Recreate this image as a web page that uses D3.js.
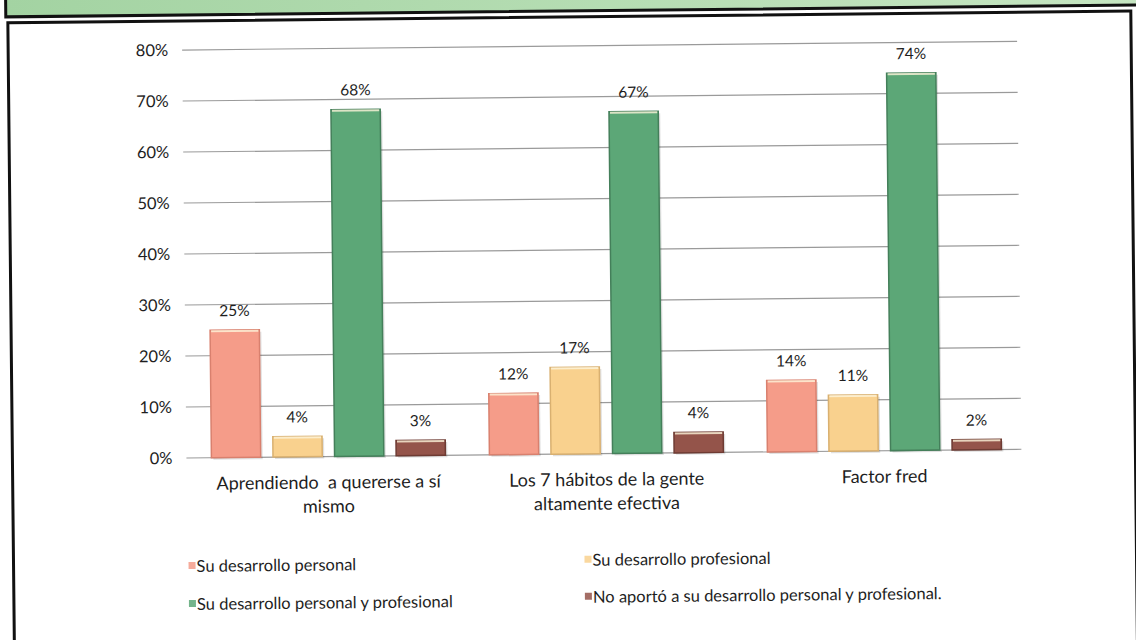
<!DOCTYPE html>
<html>
<head>
<meta charset="utf-8">
<script src="https://cdn.jsdelivr.net/npm/d3@7"></script>
<style>
  html, body { margin: 0; padding: 0; background: #ffffff; }
  svg { display: block; }
  text { font-family: Lato, "Open Sans", sans-serif; fill: #1e1e1e; white-space: pre; }
</style>
</head>
<body>
<svg id="chart" width="1136" height="640"></svg>
<script>
const categories = [
  ["Aprendiendo  a quererse a sí", "mismo"],
  ["Los 7 hábitos de la gente", "altamente efectiva"],
  ["Factor fred"]
];
const seriesNames = [
  "Su desarrollo personal",
  "Su desarrollo profesional",
  "Su desarrollo personal y profesional",
  "No aportó a su desarrollo personal y profesional."
];
const personal = [0.25, 0.12, 0.14];
const profesional = [0.04, 0.17, 0.11];
const personalYProfesional = [0.68, 0.67, 0.74];
const noAporto = [0.03, 0.04, 0.02];
const yTicks = [0, 0.1, 0.2, 0.3, 0.4, 0.5, 0.6, 0.7, 0.8];

const seriesValues = [personal, profesional, personalYProfesional, noAporto];
const fills = ["#f59c89", "#f9d18e", "#5ca777", "#94544a"];
const edges = ["#d9806e", "#d9b070", "#447f5a", "#6e3b33"];

const svg = d3.select("#chart");
svg.append("rect").attr("width", 1136).attr("height", 640).attr("fill", "#fff");
const root = svg.append("g").attr("transform", "rotate(-0.6 568 320)");

// frame
const grad = svg.append("defs").append("linearGradient").attr("id", "band")
  .attr("x1", 0).attr("x2", 1).attr("y1", 0).attr("y2", 0);
grad.append("stop").attr("offset", "0%").attr("stop-color", "#a3d3a2");
grad.append("stop").attr("offset", "100%").attr("stop-color", "#c6e6c2");
root.append("rect").attr("x", 9).attr("y", -20).attr("width", 1140).attr("height", 31)
  .attr("fill", "url(#band)").attr("stroke", "#111").attr("stroke-width", 3);
root.append("rect").attr("x", 11).attr("y", 17).attr("width", 1123).attr("height", 660)
  .attr("fill", "#fff").attr("stroke", "#111").attr("stroke-width", 3);

const x0 = d3.scaleBand().domain(d3.range(categories.length)).range([188, 1022]);
const x1 = d3.scaleBand().domain(d3.range(seriesNames.length))
  .range([22, x0.bandwidth() - 22]).paddingInner(0.2);
const y = d3.scaleLinear().domain([0, 0.8]).range([454, 46]);

// gridlines
root.append("g").selectAll("line").data(yTicks).join("line")
  .attr("x1", 185).attr("x2", 1020)
  .attr("y1", d => y(d)).attr("y2", d => y(d))
  .attr("stroke", "#9a9a9a").attr("stroke-width", 1.2);

// y axis labels
const yAxis = d3.axisLeft(y).tickValues(yTicks).tickFormat(d3.format(".0%")).tickSize(0).tickPadding(14);
const ya = root.append("g").attr("transform", "translate(185,0)").call(yAxis);
ya.select(".domain").remove();
ya.selectAll("text").attr("font-size", 16.5).attr("font-family", "Lato, sans-serif").attr("fill", "#1e1e1e");

// bars
const groups = root.append("g").selectAll("g").data(categories).join("g")
  .attr("transform", (d, i) => `translate(${x0(i)},0)`);

seriesValues.forEach((vals, s) => {
  groups.append("rect")
    .attr("x", x1(s) + 2).attr("y", (d, i) => y(vals[i]) + 2)
    .attr("width", x1.bandwidth()).attr("height", (d, i) => y(0) - y(vals[i]))
    .attr("fill", "#000").attr("opacity", 0.12);
  groups.append("rect")
    .attr("x", x1(s)).attr("y", (d, i) => y(vals[i]))
    .attr("width", x1.bandwidth()).attr("height", (d, i) => y(0) - y(vals[i]))
    .attr("fill", fills[s]).attr("stroke", edges[s]).attr("stroke-width", 1.5);
  groups.append("line")
    .attr("x1", x1(s) + 1).attr("x2", x1(s) + x1.bandwidth() - 1)
    .attr("y1", (d, i) => y(vals[i]) + 1).attr("y2", (d, i) => y(vals[i]) + 1)
    .attr("stroke", "#fff6dc").attr("stroke-width", 2).attr("opacity", 0.8);
  groups.append("text")
    .attr("x", x1(s) + x1.bandwidth() / 2).attr("y", (d, i) => y(vals[i]) - 14)
    .attr("text-anchor", "middle").attr("font-size", 15.5)
    .text((d, i) => d3.format(".0%")(vals[i]));
});

// category labels
groups.each(function(lines, i) {
  const g = d3.select(this);
  lines.forEach((ln, k) => {
    g.append("text").attr("x", x0.bandwidth() / 2).attr("y", 486 + k * 24)
      .attr("text-anchor", "middle").attr("font-size", 18).text(ln);
  });
});

// legend
const legPos = [[186, 568], [582, 566], [186, 606], [582, 603]];
const leg = root.append("g").selectAll("g").data(seriesNames).join("g")
  .attr("transform", (d, i) => `translate(${legPos[i][0]},${legPos[i][1]})`);
leg.append("rect").attr("x", 0).attr("y", -10).attr("width", 7).attr("height", 7)
  .attr("fill", (d, i) => fills[i]).attr("opacity", 0.85);
leg.append("text").attr("x", 8).attr("y", 0).attr("font-size", 16.5).text(d => d);
</script>
</body>
</html>
